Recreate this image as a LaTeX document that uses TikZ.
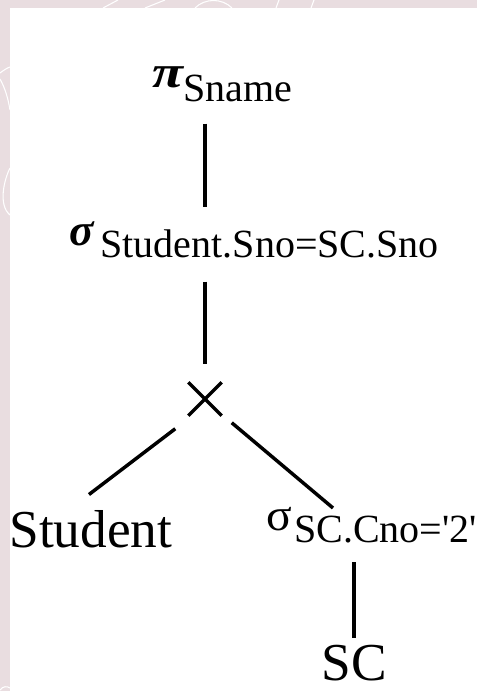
\documentclass[tikz,border=0pt]{standalone}
\usepackage{fontspec}
\usetikzlibrary{shapes.misc}
\newfontfamily\tnr{Liberation Serif}
\definecolor{bgpink}{RGB}{233,221,224}
\newcommand{\subsz}{\fontsize{30}{30}\selectfont}
\newcommand{\relsz}{\fontsize{40}{40}\selectfont}
\newcommand{\opsz}{\fontsize{34}{34}\selectfont}
\tikzset{every picture/.style={line width=0.75pt}}
\tikzset{
  lbl/.style={anchor=base west, inner sep=0pt, font=\tnr\subsz},
  rel/.style={lbl, font=\tnr\relsz},
  edge/.style={line width=2.6pt},
  deco/.style={white, line width=0.8pt}
}

\begin{document}
\begin{tikzpicture}[x=0.75pt,y=0.75pt,yscale=-1,xscale=1]
\useasboundingbox (0,0) rectangle (477,691);

%Background
\fill[bgpink] (0,0) rectangle (477,691);
\begin{scope}
\clip (0,0) rectangle (477,8) (0,0) rectangle (10,691);
\draw[deco] (103,8) -- (118,0);
\draw[deco] (145,8) -- (165,0);
\draw[deco] (195,8) .. controls (205,-2) and (222,-2) .. (232,8);
\draw[deco] (276,8) -- (279,0);
\draw[deco] (311,8) -- (314,0);
\draw[deco] (0,73) .. controls (4,70) and (7,68) .. (10,67);
\draw[deco] (0,79) .. controls (5,88) and (8,98) .. (10,110);
\draw[deco] (10,168) .. controls (4,180) and (-2,205) .. (10,215);
\draw[deco] (0,690) .. controls (3,686) and (7,686) .. (10,688);
\end{scope}
\fill[white] (10,8) rectangle (477,691);

%Nodes
\node[lbl] (proj) at (152,88) {{\opsz\bfseries\itshape\scalebox{1.25}[1]{π}}\lower 10.5pt\hbox{Sname}};
\node[lbl] (sel) at (69,246) {{\opsz\bfseries\itshape σ}\lower 9pt\hbox{\,Student.Sno=SC.Sno}};
\node[cross out, draw, line width=2.6pt, minimum size=22.5pt, inner sep=0pt] (cross) at (205,399) {};
\node[rel] (stud) at (9,547) {Student};
\node[lbl] (selsc) at (266,530) {{\opsz\scalebox{1.05}[1]{σ}}\lower 9.5pt\hbox{\hspace{1.5pt}SC.Cno='2'}};
\node[rel] (sc) at (321,680) {SC};

%Edges
\draw[edge, shorten <=15.5pt, shorten >=11pt] (proj.south -| cross) -- (sel.north -| cross);
\draw[edge, shorten <=17pt, shorten >=13.5pt] (sel.south -| cross) -- (cross.north);
\draw[edge] ([shift={(-13,13)}]cross.south west) -- ([shift={(-2,-15)}]stud.north);
\draw[edge] ([shift={(10,7)}]cross.south east) -- ([shift={(67,-22)}]selsc.base west);
\draw[edge, shorten <=14pt, shorten >=5pt] (selsc.south -| sc) -- (sc.north);

\end{tikzpicture}
\end{document}
